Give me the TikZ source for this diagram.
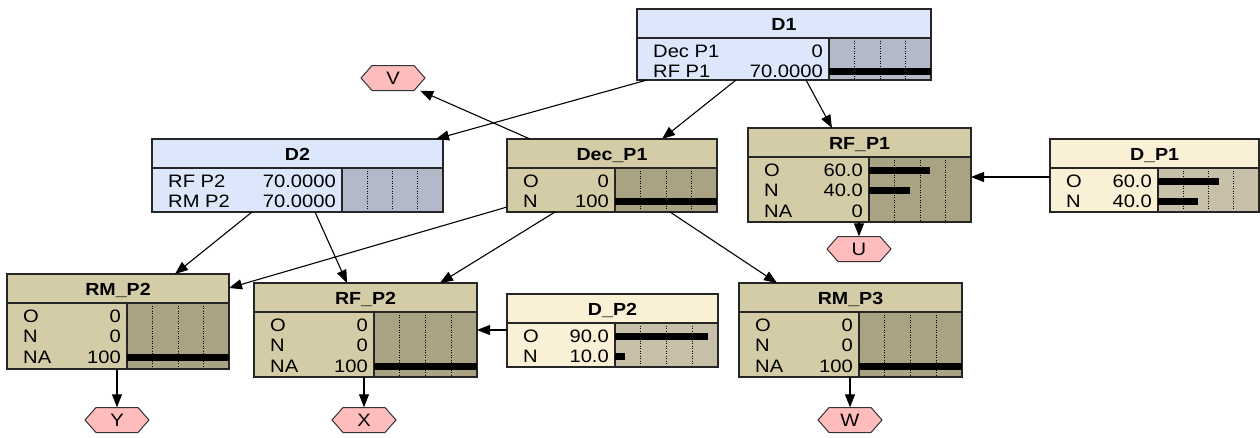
\documentclass[tikz,border=0pt]{standalone}
\usepackage{fontspec}
\newfontfamily\bnfont{Liberation Sans}[FakeStretch=1.12]
\usetikzlibrary{arrows.meta}
\definecolor{bluetitle}{HTML}{DDE7FB}
\definecolor{bluebar}{HTML}{B3B9C9}
\definecolor{tantitle}{HTML}{D3CCA6}
\definecolor{tanbar}{HTML}{AAA383}
\definecolor{creamtitle}{HTML}{F9F0D5}
\definecolor{creambar}{HTML}{C8BFA8}
\definecolor{hexfill}{HTML}{FFBCBC}
\tikzset{
  boxshape/.style={anchor=north west, inner sep=0pt, outer sep=0pt, draw=none},
  boxline/.style={draw=black!85, line width=1.2pt},
  gridline/.style={black, line width=0.8pt, dash pattern=on 1pt off 1.5pt},
  titletext/.style={font=\bnfont\fontsize{17.5}{20}\selectfont\bfseries, inner sep=0pt},
  rowtext/.style={font=\bnfont\fontsize{18}{20}\selectfont, inner sep=0pt},
  hexshape/.style={fill=hexfill, draw=black!80, line width=1pt},
  hexlabel/.style={font=\bnfont\fontsize{18}{20}\selectfont, inner sep=0pt, minimum width=64pt, minimum height=25pt},
  arr/.style={line width=1.1pt, -{Triangle[length=13pt,width=10pt]}},
}
% #1 name, #2 x, #3 y, #4 w, #5 h, #6 bar x, #7 title fill, #8 bar fill, #9 title
\newcommand\bnbox[9]{%
  \node[boxshape, fill=#7, minimum width=#4pt, minimum height=#5pt] (#1) at (#2,#3) {};
  \fill[#8] (#6,{#3+29}) rectangle ({#2+#4},{#3+#5});
  \foreach \k in {1,2,3} \draw[gridline] ({#6+\k*(#2+#4-#6)/4},{#3+29}) -- ({#6+\k*(#2+#4-#6)/4},{#3+#5});
  \node[titletext, anchor=base] (#1-title) at ({#2+#4/2},{#3+21}) {#9};
  \draw[boxline] (#1.north west) rectangle (#1.south east);
  \draw[boxline] (#2,{#3+29}) -- ({#2+#4},{#3+29});
  \draw[boxline] (#6,{#3+29}) -- (#6,{#3+#5});
}
% #1 name, #2 left, #3 bar x, #4 right, #5 center y, #6 label, #7 value, #8 fraction
\newcommand\bnrow[8]{%
  \fill[black] (#3,{#5-3.5}) rectangle ({#3+#8*(#4-#3)},{#5+3.5});
  \node[rowtext, anchor=base west] (#1-l) at ({#2+16},{#5+6}) {#6};
  \node[rowtext, anchor=base east] (#1-v) at ({#3-6},{#5+6}) {#7};
}
% #1 name, #2 x, #3 y, #4 label
\newcommand\hexnode[4]{%
  \filldraw[hexshape] ({#2-32},#3) -- ({#2-21},{#3-12.5}) -- ({#2+21},{#3-12.5}) -- ({#2+32},#3) -- ({#2+21},{#3+12.5}) -- ({#2-21},{#3+12.5}) -- cycle;
  \node[hexlabel] (#1) at (#2,#3) {#4};
}
\begin{document}
\begin{tikzpicture}[x=1pt,y=-1pt]
\useasboundingbox (0,0) rectangle (1260,437);
% D1
\bnbox{D1}{637}{9}{294}{71}{829}{bluetitle}{bluebar}{D1}
\bnrow{d1a}{637}{829}{931}{51}{Dec P1}{0}{0}
\bnrow{d1b}{637}{829}{931}{71.5}{RF P1}{70.0000}{1}
% D2
\bnbox{D2}{152}{139}{291}{73}{342}{bluetitle}{bluebar}{D2}
\bnrow{d2a}{152}{342}{443}{181}{RF P2}{70.0000}{0}
\bnrow{d2b}{152}{342}{443}{201.5}{RM P2}{70.0000}{0}
% Dec_P1
\bnbox{DecP1}{507}{139}{210}{73}{615}{tantitle}{tanbar}{Dec\_P1}
\bnrow{deca}{507}{615}{717}{181}{O}{0}{0}
\bnrow{decb}{507}{615}{717}{201.5}{N}{100}{1}
% RF_P1
\bnbox{RFP1}{748}{128}{223}{94}{869}{tantitle}{tanbar}{RF\_P1}
\bnrow{rf1a}{748}{869}{971}{170}{O}{60.0}{0.6}
\bnrow{rf1b}{748}{869}{971}{190.5}{N}{40.0}{0.4}
\bnrow{rf1c}{748}{869}{971}{211}{NA}{0}{0}
% D_P1
\bnbox{DP1}{1050}{139}{209}{73}{1158}{creamtitle}{creambar}{D\_P1}
\bnrow{dp1a}{1050}{1158}{1259}{181}{O}{60.0}{0.6}
\bnrow{dp1b}{1050}{1158}{1259}{201.5}{N}{40.0}{0.4}
% RM_P2
\bnbox{RMP2}{7}{274}{222}{95}{127}{tantitle}{tanbar}{RM\_P2}
\bnrow{rm2a}{7}{127}{229}{316}{O}{0}{0}
\bnrow{rm2b}{7}{127}{229}{336.5}{N}{0}{0}
\bnrow{rm2c}{7}{127}{229}{357}{NA}{100}{1}
% RF_P2
\bnbox{RFP2}{254}{283}{223}{94}{374}{tantitle}{tanbar}{RF\_P2}
\bnrow{rf2a}{254}{374}{477}{325}{O}{0}{0}
\bnrow{rf2b}{254}{374}{477}{345.5}{N}{0}{0}
\bnrow{rf2c}{254}{374}{477}{366}{NA}{100}{1}
% D_P2
\bnbox{DP2}{507}{294}{211}{73}{615}{creamtitle}{creambar}{D\_P2}
\bnrow{dp2a}{507}{615}{718}{336}{O}{90.0}{0.9}
\bnrow{dp2b}{507}{615}{718}{356.5}{N}{10.0}{0.1}
% RM_P3
\bnbox{RMP3}{739}{283}{223}{94}{859}{tantitle}{tanbar}{RM\_P3}
\bnrow{rm3a}{739}{859}{962}{325}{O}{0}{0}
\bnrow{rm3b}{739}{859}{962}{345.5}{N}{0}{0}
\bnrow{rm3c}{739}{859}{962}{366}{NA}{100}{1}
% utility hexagons
\hexnode{V}{393}{78}{V}
\hexnode{U}{859}{249}{U}
\hexnode{Y}{117}{420}{Y}
\hexnode{X}{364}{420}{X}
\hexnode{W}{850}{420}{W}
% connectors
\draw[arr] ([xshift=10pt]D1.south west) -- ([xshift=-7pt]D2.north east);
\draw[arr] ([xshift=99pt]D1.south west) -- ([xshift=155pt]DecP1.north west);
\draw[arr] ([xshift=169pt]D1.south west) -- ([xshift=84pt]RFP1.north west);
\draw[arr] ([xshift=23pt]DecP1.north west) -- ([xshift=-5pt]V.south east);
\draw[arr] ([yshift=5pt]DecP1.south west) -- ([yshift=-14pt]RMP2.north east);
\draw[arr] ([xshift=48pt]DecP1.south west) -- ([xshift=186pt]RFP2.north west);
\draw[arr] ([xshift=163pt]DecP1.south west) -- ([xshift=38pt]RMP3.north west);
\draw[arr] ([xshift=100pt]D2.south west) -- ([xshift=168pt]RMP2.north west);
\draw[arr] ([xshift=163pt]D2.south west) -- ([xshift=93pt]RFP2.north west);
\draw[arr] ([yshift=-38pt]DP1.north west) -- ([yshift=-49pt]RFP1.north east);
\draw[arr] ([yshift=-36pt]DP2.north west) -- ([yshift=-47pt]RFP2.north east);
\draw[arr] ([xshift=111pt]RFP1.south west) -- (U.north);
\draw[arr] ([xshift=110pt]RMP2.south west) -- (Y.north);
\draw[arr] ([xshift=110pt]RFP2.south west) -- (X.north);
\draw[arr] ([xshift=111pt]RMP3.south west) -- (W.north);
\end{tikzpicture}
\end{document}
